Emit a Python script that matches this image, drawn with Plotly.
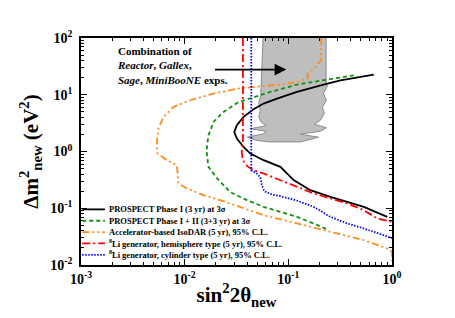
import numpy as np
import plotly.graph_objects as go

# ---------------- data ----------------
# Combined allowed region (Reactor, Gallex, Sage, MiniBooNE) - polygon outline
band_x = [0.0570, 0.0561, 0.0555, 0.0542, 0.0519, 0.0536, 0.0519, 0.0548, 0.0613, 0.0429,
          0.0613, 0.0561, 0.0402, 0.0491, 0.0641, 0.1306, 0.195, 0.1306, 0.2038, 0.2329,
          0.1784, 0.2038, 0.2227, 0.2131, 0.2329, 0.2179, 0.238, 0.2313, 0.2313]
band_y = [100, 40.5, 18.0, 9.80, 7.09, 5.33, 4.02, 3.28, 2.85, 2.52,
          2.28, 2.02, 1.79, 1.58, 1.476, 1.476, 1.79, 2.02, 2.28, 2.62,
          3.02, 3.56, 4.72, 6.03, 8.00, 10.6, 14.1, 18.0, 100]

# PROSPECT Phase I (3 yr) at 3 sigma
p1_x = [0.667, 0.318, 0.219, 0.121, 0.0778, 0.0577, 0.0462, 0.037, 0.0319, 0.0301,
        0.0319, 0.037, 0.043, 0.0577, 0.0838, 0.1125, 0.163, 0.255, 0.535, 0.90]
p1_y = [22.7, 18.0, 15.1, 11.2, 8.57, 7.0, 5.56, 4.07, 2.90, 2.21,
        1.69, 1.20, 0.92, 0.703, 0.536, 0.313, 0.208, 0.159, 0.106, 0.0706]

# PROSPECT Phase I + II (3+3 yr) at 3 sigma
p2_x = [0.4276, 0.2545, 0.1213, 0.0670, 0.0429, 0.03288, 0.02371, 0.01898, 0.01698, 0.01639,
        0.01639, 0.01698, 0.02047, 0.02752, 0.0399, 0.0577, 0.0837, 0.1213, 0.1755, 0.245]
p2_y = [22.04, 18.75, 15.12, 11.2, 8.57, 7.38, 4.98, 3.32, 1.936, 1.225,
        0.861, 0.5357, 0.3388, 0.1920, 0.1389, 0.1058, 0.0864, 0.0706, 0.054, 0.0412]

# Accelerator-based IsoDAR (5 yr), 95% C.L.
iso_x = [0.2070, 0.2070, 0.1963, 0.1755, 0.1537, 0.1537, 0.1213, 0.0837, 0.0577, 0.0399,
         0.03193, 0.01898, 0.01130, 0.007793, 0.006241, 0.005584, 0.005388, 0.005460, 0.006730, 0.008406,
         0.008519, 0.008711, 0.010502, 0.0152, 0.02203, 0.02942, 0.0577, 0.1213, 0.2545, 0.534,
         0.899, 1.0, 1.0]
iso_y = [100, 40.5, 35.86, 28.93, 23.61, 19.29, 16.80, 15.12, 14.28, 13.17,
         12.75, 10.50, 8.00, 6.10, 4.07, 2.54, 1.476, 0.922, 0.7029, 0.5739,
         0.410, 0.2733, 0.2233, 0.1701, 0.1389, 0.1157, 0.0756, 0.054, 0.0384, 0.02744,
         0.0196, 0.01708, 0.01171]

# 8Li generator, hemisphere type (5 yr), 95% C.L.
hemi_x = [0.03649, 0.03649, 0.03553, 0.0364, 0.0402, 0.04622, 0.0577, 0.0837, 0.1213, 0.1755,
          0.2545, 0.3693, 0.534, 0.7194, 1.0]
hemi_y = [100, 1.58, 0.972, 0.7029, 0.551, 0.4687, 0.410, 0.3124, 0.238, 0.1823,
          0.1488, 0.1215, 0.0926, 0.0661, 0.0576]

# 8Li generator, cylinder type (5 yr), 95% C.L.
cyl_x = [0.04391, 0.04391, 0.0491, 0.0536, 0.0555, 0.0586, 0.07004, 0.0837, 0.1213, 0.1755,
         0.2545, 0.3693, 0.534, 0.667, 0.899, 1.0]
cyl_y = [100, 0.4687, 0.415, 0.3528, 0.255, 0.2, 0.1735, 0.1633, 0.1361, 0.1058,
         0.0706, 0.054, 0.0441, 0.0384, 0.03136, 0.02976]

series_names = [
    "PROSPECT Phase I (3 yr) at 3σ",
    "PROSPECT Phase I + II (3+3 yr) at 3σ",
    "Accelerator-based IsoDAR (5 yr), 95% C.L.",
    "<sup>8</sup>Li generator, hemisphere type (5 yr), 95% C.L.",
    "<sup>8</sup>Li generator, cylinder type (5 yr), 95% C.L.",
]
series_colors = ["#000000", "#119011", "#FF8C1A", "#FF0000", "#0000FF"]
series_dash = ["solid", "4px,3px", "7px,3px,2px,3px,2px,3px", "8px,3px,2px,3px", "1.5px,1.5px"]
series_x = [p1_x, p2_x, iso_x, hemi_x, cyl_x]
series_y = [p1_y, p2_y, iso_y, hemi_y, cyl_y]

x_tick_vals = [1e-3, 1e-2, 1e-1, 1e0]
x_tick_text = ["10<sup>-3</sup>", "10<sup>-2</sup>", "10<sup>-1</sup>", "10<sup>0</sup>"]
y_tick_vals = [1e-2, 1e-1, 1e0, 1e1, 1e2]
y_tick_text = ["10<sup>-2</sup>", "10<sup>-1</sup>", "10<sup>0</sup>", "10<sup>1</sup>", "10<sup>2</sup>"]

# arrow pointing to the combined region
arrow_tail = (0.01897, 27.8)
arrow_tip = (0.0956, 27.8)

# ---------------- figure ----------------
FONT = "Liberation Serif, Times New Roman, serif"
fig = go.Figure()

fig.add_trace(go.Scatter(x=band_x, y=band_y, mode="lines", fill="toself",
                         fillcolor="#BEBEBE", line=dict(color="#8A8A8A", width=1),
                         showlegend=False, hoverinfo="skip"))

for xs, ys, c, d, n in zip(series_x, series_y, series_colors, series_dash, series_names):
    fig.add_trace(go.Scatter(x=xs, y=ys, mode="lines", name=n,
                             line=dict(color=c, width=1.8, dash=d),
                             showlegend=False))

minor_x = [m * 10.0 ** e for e in range(-3, 0) for m in range(2, 10)]
minor_y = [m * 10.0 ** e for e in range(-2, 2) for m in range(2, 10)]

axis_common = dict(showline=True, linecolor="black", linewidth=1.5, mirror="allticks",
                   ticks="inside", ticklen=6, tickwidth=1.2, tickcolor="black",
                   showgrid=False, zeroline=False,
                   tickfont=dict(family=FONT, size=14, color="black", weight="bold"))

fig.update_xaxes(type="log", range=[-3, 0], tickmode="array", tickvals=x_tick_vals,
                 ticktext=x_tick_text,
                 minor=dict(tickmode="array", tickvals=minor_x, ticks="inside", ticklen=3,
                            tickcolor="black", tickwidth=1, showgrid=False),
                 title=dict(text="sin<sup>2</sup>2θ<sub>new</sub>", standoff=2,
                            font=dict(family=FONT, size=21, color="black", weight="bold")),
                 **axis_common)
fig.update_yaxes(type="log", range=[-2, 2], tickmode="array", tickvals=y_tick_vals,
                 ticktext=y_tick_text, ticklabelstandoff=4,
                 minor=dict(tickmode="array", tickvals=minor_y, ticks="inside", ticklen=3,
                            tickcolor="black", tickwidth=1, showgrid=False),
                 title=dict(text="Δm<sup>2</sup><sub>new</sub> (eV<sup>2</sup>)", standoff=6,
                            font=dict(family=FONT, size=21, color="black", weight="bold")),
                 **axis_common)

# text annotation
fig.add_annotation(xref="paper", yref="paper", x=0.108, y=0.978, xanchor="left", yanchor="top",
                   align="left", showarrow=False,
                   text="Combination of<br><i>Reactor</i>, <i>Gallex</i>,<br><i>Sage</i>, <i>MiniBooNE</i> exps.",
                   font=dict(family=FONT, size=11, color="black", weight="bold"))
fig.add_annotation(x=np.log10(arrow_tip[0]), y=np.log10(arrow_tip[1]),
                   ax=np.log10(arrow_tail[0]), ay=np.log10(arrow_tail[1]),
                   xref="x", yref="y", axref="x", ayref="y", text="", showarrow=True,
                   arrowhead=2, arrowsize=1.3, arrowwidth=1.8, arrowcolor="black", standoff=0)

# manual compact legend
leg_top, leg_step = 0.245, 0.05
for i, (n, c, d) in enumerate(zip(series_names, series_colors, series_dash)):
    yy = leg_top - i * leg_step
    fig.add_shape(type="line", xref="paper", yref="paper", x0=0.004, x1=0.077, y0=yy, y1=yy,
                  line=dict(color=c, width=1.8, dash=d))
    fig.add_annotation(xref="paper", yref="paper", x=0.083, y=yy, xanchor="left", yanchor="middle",
                       text=n, showarrow=False,
                       font=dict(family=FONT, size=8.5, color="black", weight="bold"))

fig.update_layout(width=455, height=318, margin=dict(l=81, r=63, t=38, b=53, autoexpand=False),
                  paper_bgcolor="white", plot_bgcolor="white", showlegend=False)

fig.write_html("out.html", config={"displayModeBar": False},
               post_script="document.body.style.margin='0';document.body.style.overflow='hidden';")
